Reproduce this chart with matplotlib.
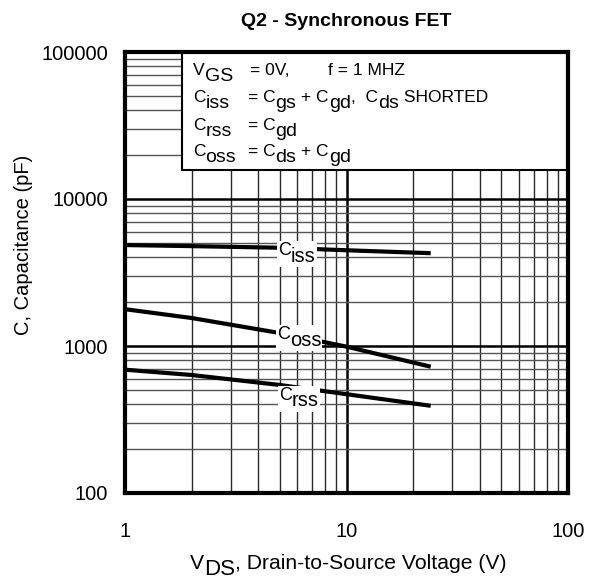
import matplotlib
matplotlib.use("Agg")
import matplotlib.pyplot as plt
from matplotlib.patches import Rectangle
from matplotlib.ticker import LogLocator, FixedLocator, NullFormatter

plt.rcParams['font.family'] = ['Liberation Sans', 'DejaVu Sans']

# Capacitance vs drain-source voltage (pF)
vds = [1, 2, 5, 10, 24]
ciss = [4860, 4780, 4660, 4480, 4280]
coss = [1780, 1550, 1225, 990, 723]
crss = [690, 635, 543, 470, 392]

x_ticks = [1, 10, 100]
x_tick_labels = ["1", "10", "100"]
y_ticks = [100, 1000, 10000, 100000]
y_tick_labels = ["100", "1000", "10000", "100000"]

W, H = 589, 579
fig = plt.figure(figsize=(W / 100, H / 100), dpi=100)
renderer = fig.canvas.get_renderer()
ax = fig.add_axes([125 / W, 1 - 493 / H, (568 - 125) / W, (493 - 52) / H])

ax.set_xscale('log')
ax.set_yscale('log')
ax.set_xlim(1, 100)
ax.set_ylim(100, 100000)

ax.xaxis.set_major_locator(FixedLocator(x_ticks))
ax.set_xticklabels(x_tick_labels)
ax.yaxis.set_major_locator(FixedLocator(y_ticks))
ax.set_yticklabels(y_tick_labels)
ax.xaxis.set_minor_locator(LogLocator(base=10, subs=range(2, 10)))
ax.yaxis.set_minor_locator(LogLocator(base=10, subs=range(2, 10)))
ax.xaxis.set_minor_formatter(NullFormatter())
ax.yaxis.set_minor_formatter(NullFormatter())
ax.tick_params(which='both', length=0, labelsize=14.5)
ax.tick_params(axis='y', pad=12)
ax.tick_params(axis='x', pad=21)

ax.grid(which='major', axis='both', color='black', linewidth=1.8, zorder=1)
ax.grid(which='minor', axis='x', color='#2a2a2a', linewidth=1.0, zorder=1)
ax.grid(which='minor', axis='y', color='#555555', linewidth=1.0, zorder=1)
ax.set_axisbelow(True)
for s in ax.spines.values():
    s.set_linewidth(3)
    s.set_zorder(6)

# Test-condition box in the upper right corner
box = Rectangle(((182 - 125) / (568 - 125), (493 - 170) / (493 - 52)), 1.0, 1.0,
                transform=ax.transAxes, facecolor='white', edgecolor='black',
                linewidth=1.5, zorder=3)
ax.add_patch(box)

for c in (ciss, coss, crss):
    ax.plot(vds, c, color='black', linewidth=3, solid_capstyle='butt', zorder=4)


def rich(x, y, segs, size=12.5, sub_size=14, shift=6, ha='left', bg=False, zorder=7):
    """Draw text pieces in figure pixels; pieces flagged True are subscripts."""
    texts = []
    cur = x
    for s, sub in segs:
        yy = y + (shift if sub else 0)
        t = fig.text(cur / W, 1 - yy / H, s, fontsize=sub_size if sub else size,
                     va='baseline', ha='left', zorder=zorder)
        cur += t.get_window_extent(renderer).width
        texts.append(t)
    total = cur - x
    if ha == 'center':
        for t in texts:
            px, py = t.get_position()
            t.set_position((px - total / 2 / W, py))
    if bg:
        ext = [t.get_window_extent(renderer) for t in texts]
        x0 = min(e.x0 for e in ext) - 1
        x1 = max(e.x1 for e in ext) + 1
        y0 = min(e.y0 for e in ext) - 1
        y1 = max(e.y1 for e in ext) + 1
        fig.patches.append(Rectangle((x0 / W, y0 / H), (x1 - x0) / W, (y1 - y0) / H,
                                     transform=fig.transFigure, facecolor='white',
                                     edgecolor='none', zorder=zorder - 1))
    return texts


# Legend text
rich(193, 75, [('V', False), ('GS', True)])
rich(250, 75, [('= 0V,', False)])
rich(328, 75, [('f = 1 MHZ', False)])
rich(193, 102, [('C', False), ('iss', True)])
rich(248, 102, [('= C', False), ('gs', True), (' + C', False), ('gd', True),
                (',  C', False), ('ds', True), (' SHORTED', False)])
rich(193, 130, [('C', False), ('rss', True)])
rich(248, 130, [('= C', False), ('gd', True)])
rich(193, 156, [('C', False), ('oss', True)])
rich(248, 156, [('= C', False), ('ds', True), (' + C', False), ('gd', True)])

# Curve labels
rich(297, 255, [('C', False), ('iss', True)], size=13, sub_size=14.5, shift=6.5,
     ha='center', bg=True)
rich(299, 339, [('C', False), ('oss', True)], size=13, sub_size=14.5, shift=6.5,
     ha='center', bg=True)
rich(299, 400, [('C', False), ('rss', True)], size=13, sub_size=14.5, shift=6.5,
     ha='center', bg=True)

fig.text(346.5 / W, 1 - 21 / H, 'Q2 - Synchronous FET', fontsize=14,
         fontweight='bold', ha='center', va='center')
rich(348, 569, [('V', False), ('DS', True), (', Drain-to-Source Voltage (V)', False)],
     size=15.2, sub_size=16, shift=6, ha='center')
fig.text(24 / W, 1 - 245 / H, 'C, Capacitance (pF)', fontsize=14.5,
         rotation=90, ha='center', va='center')

fig.savefig('out.png', dpi=100, facecolor='white')
